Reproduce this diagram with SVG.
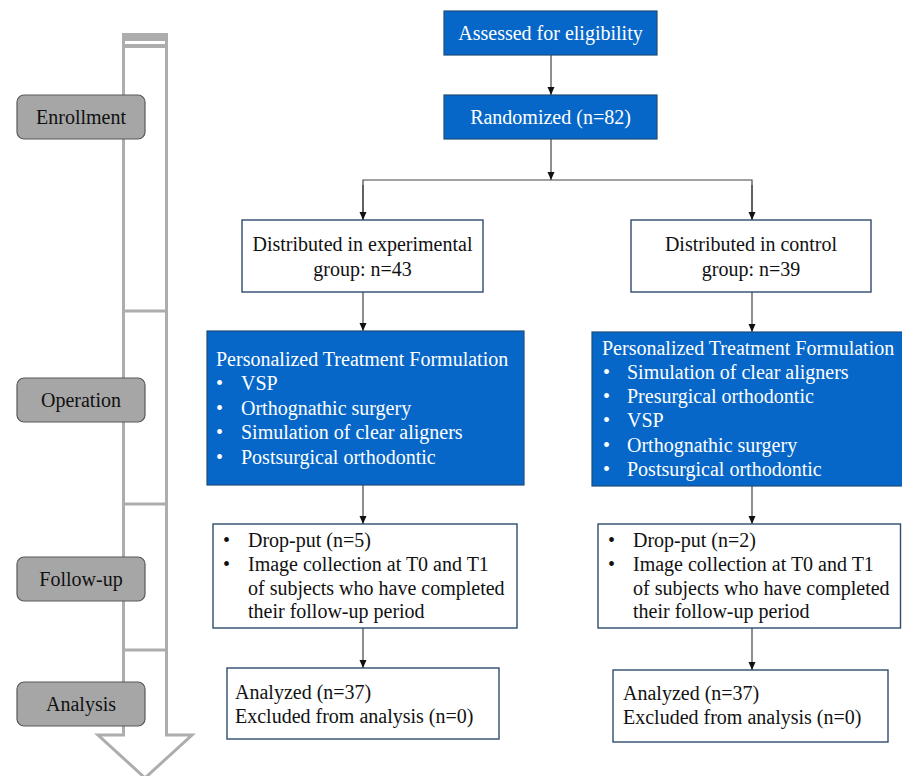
<svg xmlns="http://www.w3.org/2000/svg" width="902" height="776" viewBox="0 0 902 776">
<defs>
<marker id="ah" viewBox="0 0 8 8" refX="8" refY="4" markerWidth="8" markerHeight="8" markerUnits="userSpaceOnUse" orient="auto">
<path d="M0,0.5 L8,4 L0,7.5 Z" fill="#111"/>
</marker>
<style>
text{font-family:"Liberation Serif","Times New Roman",serif;font-size:20px;}
.blue{fill:#0667c9;stroke:#1f4e79;stroke-width:1.2;}
.wbox{fill:#fff;stroke:#2f4b6e;stroke-width:1.4;}
.stage{fill:#a6a6a6;stroke:#595959;stroke-width:1.2;}
.wt{fill:#fff;}
.bt{fill:#111;}
.conn{stroke:#444;stroke-width:1.2;fill:none;}
.shaft{stroke:#adadad;stroke-width:3;fill:none;}
</style>
</defs>
<rect width="902" height="776" fill="#fff"/>

<g id="timeline-arrow">
<path class="shaft" d="M123.5,34 V735 H98 L145,778 L192,735 H166.5 V34"/>
<rect x="122" y="33" width="46" height="8" fill="#adadad"/>
<rect x="122" y="44" width="46" height="4" fill="#adadad"/>
<line class="shaft" x1="123" y1="311" x2="167" y2="311"/>
<line class="shaft" x1="123" y1="504" x2="167" y2="504"/>
<line class="shaft" x1="123" y1="650" x2="167" y2="650"/>
</g>

<g id="stage-enrollment">
<rect class="stage" x="17" y="95" width="128" height="44" rx="7"/>
<text class="bt" x="81" y="124" text-anchor="middle">Enrollment</text>
</g>
<g id="stage-operation">
<rect class="stage" x="17" y="378" width="128" height="44" rx="7"/>
<text class="bt" x="81" y="407" text-anchor="middle">Operation</text>
</g>
<g id="stage-followup">
<rect class="stage" x="17" y="557" width="128" height="44" rx="7"/>
<text class="bt" x="81" y="586" text-anchor="middle">Follow-up</text>
</g>
<g id="stage-analysis">
<rect class="stage" x="17" y="682" width="128" height="44" rx="7"/>
<text class="bt" x="81" y="711" text-anchor="middle">Analysis</text>
</g>

<g id="connectors">
<line class="conn" x1="551" y1="55" x2="551" y2="95" marker-end="url(#ah)"/>
<line class="conn" x1="551" y1="139" x2="551" y2="180" marker-end="url(#ah)"/>
<polyline class="conn" points="363,220 363,180 752,180 752,220"/>
<line class="conn" x1="363" y1="185" x2="363" y2="220" marker-end="url(#ah)"/>
<line class="conn" x1="752" y1="185" x2="752" y2="220" marker-end="url(#ah)"/>
<line class="conn" x1="363" y1="292" x2="363" y2="331" marker-end="url(#ah)"/>
<line class="conn" x1="752" y1="292" x2="752" y2="332" marker-end="url(#ah)"/>
<line class="conn" x1="363" y1="485" x2="363" y2="524" marker-end="url(#ah)"/>
<line class="conn" x1="752" y1="486" x2="752" y2="524" marker-end="url(#ah)"/>
<line class="conn" x1="363" y1="628" x2="363" y2="668" marker-end="url(#ah)"/>
<line class="conn" x1="752" y1="628" x2="752" y2="670" marker-end="url(#ah)"/>
</g>

<g id="assessed">
<rect class="blue" x="444" y="11" width="213" height="44"/>
<text class="wt" x="550.5" y="40" text-anchor="middle">Assessed for eligibility</text>
</g>
<g id="randomized">
<rect class="blue" x="444" y="95" width="213" height="44"/>
<text class="wt" x="550.5" y="124" text-anchor="middle">Randomized (n=82)</text>
</g>

<g id="dist-exp">
<rect class="wbox" x="242" y="220" width="241" height="72"/>
<text class="bt" x="362.5" y="251" text-anchor="middle">Distributed in experimental</text>
<text class="bt" x="362.5" y="276" text-anchor="middle">group: n=43</text>
</g>
<g id="dist-ctrl">
<rect class="wbox" x="631" y="220" width="240" height="72"/>
<text class="bt" x="751" y="251" text-anchor="middle">Distributed in control</text>
<text class="bt" x="751" y="276" text-anchor="middle">group: n=39</text>
</g>

<g id="treat-exp">
<rect class="blue" x="207" y="331" width="317" height="154"/>
<text class="wt" x="216" y="366">Personalized Treatment Formulation</text>
<text class="wt" x="216" y="390">•</text><text class="wt" x="241" y="390">VSP</text>
<text class="wt" x="216" y="415">•</text><text class="wt" x="241" y="415">Orthognathic surgery</text>
<text class="wt" x="216" y="439">•</text><text class="wt" x="241" y="439">Simulation of clear aligners</text>
<text class="wt" x="216" y="464">•</text><text class="wt" x="241" y="464">Postsurgical orthodontic</text>
</g>
<g id="treat-ctrl">
<rect class="blue" x="592" y="332" width="312" height="154"/>
<text class="wt" x="602" y="355">Personalized Treatment Formulation</text>
<text class="wt" x="603" y="379">•</text><text class="wt" x="627" y="379">Simulation of clear aligners</text>
<text class="wt" x="603" y="403">•</text><text class="wt" x="627" y="403">Presurgical orthodontic</text>
<text class="wt" x="603" y="427">•</text><text class="wt" x="627" y="427">VSP</text>
<text class="wt" x="603" y="452">•</text><text class="wt" x="627" y="452">Orthognathic surgery</text>
<text class="wt" x="603" y="476">•</text><text class="wt" x="627" y="476">Postsurgical orthodontic</text>
</g>

<g id="follow-exp">
<rect class="wbox" x="213" y="524" width="304" height="104"/>
<text class="bt" x="223" y="547">•</text><text class="bt" x="248" y="547">Drop-put (n=5)</text>
<text class="bt" x="223" y="571">•</text><text class="bt" x="248" y="571">Image collection at T0 and T1</text>
<text class="bt" x="248" y="595">of subjects who have completed</text>
<text class="bt" x="248" y="618">their follow-up period</text>
</g>
<g id="follow-ctrl">
<rect class="wbox" x="598" y="524" width="302.5" height="104"/>
<text class="bt" x="608" y="547">•</text><text class="bt" x="633" y="547">Drop-put (n=2)</text>
<text class="bt" x="608" y="571">•</text><text class="bt" x="633" y="571">Image collection at T0 and T1</text>
<text class="bt" x="633" y="595">of subjects who have completed</text>
<text class="bt" x="633" y="618">their follow-up period</text>
</g>

<g id="analysis-exp">
<rect class="wbox" x="227" y="668" width="272" height="71"/>
<text class="bt" x="235" y="699">Analyzed (n=37)</text>
<text class="bt" x="235" y="723">Excluded from analysis (n=0)</text>
</g>
<g id="analysis-ctrl">
<rect class="wbox" x="613" y="670" width="275" height="72"/>
<text class="bt" x="623" y="700">Analyzed (n=37)</text>
<text class="bt" x="623" y="724">Excluded from analysis (n=0)</text>
</g>
</svg>
